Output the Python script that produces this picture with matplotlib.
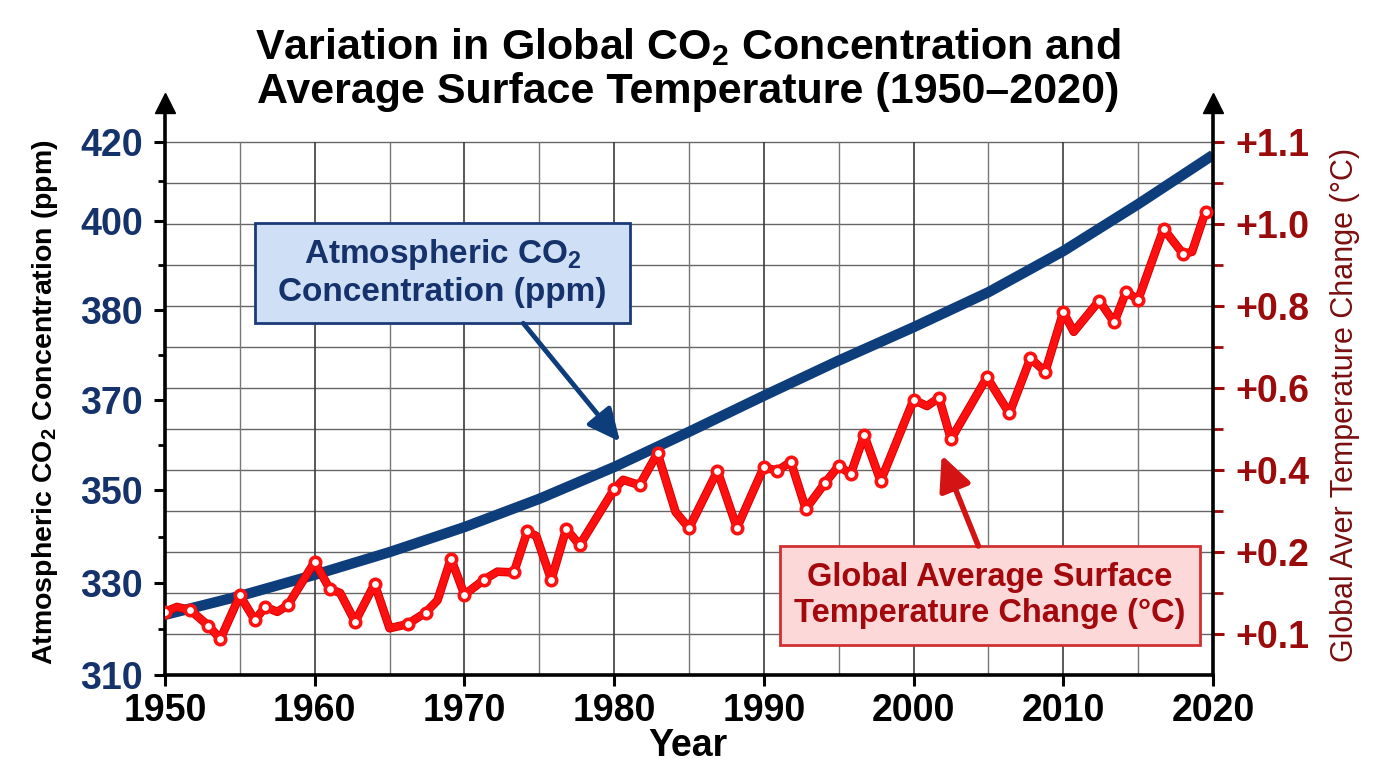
import numpy as np
import matplotlib
matplotlib.use("Agg")
import matplotlib.pyplot as plt
from matplotlib import patheffects as pe
from matplotlib.patches import Rectangle

plt.rcParams["font.family"] = ["Liberation Sans", "DejaVu Sans"]
plt.rcParams["mathtext.fontset"] = "custom"
plt.rcParams["mathtext.rm"] = "Liberation Sans"
plt.rcParams["mathtext.bf"] = "Liberation Sans:bold"

# CO2 curve, read every 5 years
co2_years = [1950, 1955, 1960, 1965, 1970, 1975, 1980, 1985,
             1990, 1995, 2000, 2005, 2010, 2015, 2020]
co2_ppm = [323.1, 327.2, 331.8, 336.7, 342.1, 348.2, 355.2, 363.0,
           370.5, 374.4, 378.1, 384.0, 393.2, 404.2, 416.7]

# temperature anomaly vertices
temp_years = [1950.0, 1950.8, 1951.7, 1952.9, 1953.7, 1955.0, 1956.0, 1956.7,
              1957.5, 1958.2, 1960.0, 1961.0, 1961.7, 1962.7, 1964.0, 1965.0,
              1966.2, 1967.4, 1968.2, 1969.1, 1970.0, 1971.3, 1972.2, 1973.3,
              1974.2, 1974.8, 1975.8, 1976.8, 1977.7, 1980.0, 1980.6, 1981.7,
              1982.9, 1984.1, 1985.0, 1986.9, 1988.2, 1990.0, 1990.9, 1991.8,
              1992.8, 1994.1, 1995.0, 1995.8, 1996.7, 1997.8, 2000.0, 2000.9,
              2001.7, 2002.5, 2004.9, 2006.4, 2007.8, 2008.8, 2010.0, 2010.7,
              2012.4, 2013.4, 2014.2, 2015.0, 2016.7, 2018.0, 2018.6, 2019.5]
temp_change = [0.127, 0.133, 0.129, 0.110, 0.094, 0.147, 0.117, 0.133,
               0.127, 0.135, 0.188, 0.155, 0.150, 0.115, 0.161, 0.107,
               0.112, 0.126, 0.141, 0.192, 0.148, 0.166, 0.176, 0.175,
               0.250, 0.239, 0.166, 0.256, 0.217, 0.353, 0.376, 0.363,
               0.441, 0.298, 0.258, 0.398, 0.259, 0.407, 0.398, 0.420,
               0.305, 0.369, 0.410, 0.390, 0.485, 0.373, 0.571, 0.556,
               0.576, 0.475, 0.626, 0.538, 0.672, 0.640, 0.785, 0.737,
               0.813, 0.760, 0.835, 0.815, 0.988, 0.927, 0.932, 1.015]
# vertices drawn without a dot
temp_unmarked = [1, 8, 12, 15, 18, 22, 25, 30, 33, 47, 55, 62]

co2_ticks = [310, 330, 350, 370, 380, 400, 420]
co2_minor = [320, 340, 360, 375, 390, 410]
temp_ticks = [0.1, 0.2, 0.4, 0.6, 0.8, 1.0, 1.1]
temp_minor = [0.15, 0.3, 0.5, 0.7, 0.9, 1.05]
year_ticks = [1950, 1960, 1970, 1980, 1990, 2000, 2010, 2020]

# both value axes are uneven: every labelled value sits on a fixed grid row
co2_vals = [290, 310, 330, 350, 370, 380, 400, 420, 440]
co2_rows = [-2.24, 0, 2.24, 4.5, 6.7, 8.9, 11.08, 13.0, 14.92]
temp_vals = [0.0, 0.1, 0.2, 0.4, 0.6, 0.8, 1.0, 1.1, 1.2]
temp_rows = [-1, 1, 3, 5, 7, 9, 11, 13, 15]
top_row = 13.95

navy = "#0e3d7c"
navy_txt = "#16326b"
red = "#ff1010"
dark_red = "#9c0b0b"


def co2_fwd(v):
    return np.interp(v, co2_vals, co2_rows)


def co2_inv(r):
    return np.interp(r, co2_rows, co2_vals)


def temp_fwd(v):
    return np.interp(v, temp_vals, temp_rows)


def temp_inv(r):
    return np.interp(r, temp_rows, temp_vals)


fig = plt.figure(figsize=(13.76, 7.68), dpi=100)
ax = fig.add_axes([165 / 1376, 1 - 675 / 768, 1048 / 1376, 572 / 768])
ax2 = ax.twinx()

ax.set_yscale("function", functions=(co2_fwd, co2_inv))
ax2.set_yscale("function", functions=(temp_fwd, temp_inv))
ax.set_xlim(1950, 2020)
ax.set_ylim(co2_inv(0), co2_inv(top_row))
ax2.set_ylim(temp_inv(0), temp_inv(top_row))

# grid, stopping at the top row
rows = np.arange(1, 14)
ax.hlines(co2_inv(rows), 1950, 2020, color="#666666", lw=1.0, zorder=0)
for yr in range(1955, 2020, 5):
    ax.vlines(yr, co2_inv(0), co2_inv(13),
              color="#3c3c3c" if yr % 10 == 0 else "#777777",
              lw=1.2 if yr % 10 == 0 else 1.0, zorder=0)

ax.plot(co2_years, co2_ppm, color=navy, lw=7.5, solid_capstyle="butt",
        solid_joinstyle="round", zorder=3)

ax2.plot(temp_years, temp_change, color=red, lw=4.8, solid_joinstyle="round",
         path_effects=[pe.Stroke(linewidth=6.2, foreground="#d80000"), pe.Normal()],
         zorder=3)
marked = [i for i in range(len(temp_years)) if i not in temp_unmarked]
ax2.plot(temp_years, temp_change, ls="none", marker="o", ms=7.5, mfc="white",
         mec=red, mew=2.6, markevery=marked, zorder=4)

# spines and arrows
for s in ["top", "right"]:
    ax.spines[s].set_visible(False)
for s in ["top", "left", "bottom"]:
    ax2.spines[s].set_visible(False)
for sp in [ax.spines["left"], ax.spines["bottom"], ax2.spines["right"]]:
    sp.set_linewidth(2.6)
    sp.set_color("black")
ax.plot([0], [1], marker="^", ms=15, color="black", transform=ax.transAxes,
        clip_on=False, zorder=6)
ax2.plot([1], [1], marker="^", ms=15, color="black", transform=ax2.transAxes,
         clip_on=False, zorder=6)

# ticks
ax.set_xticks(year_ticks)
ax.set_xticklabels([str(y) for y in year_ticks])
ax.tick_params(axis="x", direction="out", length=8, width=2.2, pad=5,
               labelsize=27)
ax.set_yticks(co2_ticks)
ax.set_yticks(co2_minor, minor=True)
ax.set_yticklabels([str(v) for v in co2_ticks])
ax.tick_params(axis="y", which="major", direction="out", length=8, width=2.2,
               pad=8, labelsize=27, labelcolor=navy_txt)
ax.tick_params(axis="y", which="minor", direction="out", length=5, width=2.0)
ax2.set_yticks(temp_ticks)
ax2.set_yticks(temp_minor, minor=True)
ax2.set_yticklabels([f"+{v:.1f}" for v in temp_ticks])
ax2.tick_params(axis="y", which="major", direction="out", length=8, width=2.2,
                pad=8, labelsize=27, labelcolor=dark_red, color=dark_red)
ax2.tick_params(axis="y", which="minor", direction="out", length=7, width=2.0,
                color=dark_red)
for lab in ax.get_xticklabels() + ax.get_yticklabels() + ax2.get_yticklabels():
    lab.set_fontweight("bold")

# callout boxes
ax2.add_patch(Rectangle((0.0859, 0.6154), 0.3578, 0.1748, transform=ax2.transAxes,
                        facecolor="#cfe0f6", edgecolor="#1b3b78", lw=2,
                        zorder=7, clip_on=False))
ax2.text(0.2648, 0.703, "Atmospheric CO$_\\mathbf{2}$\nConcentration (ppm)",
         transform=ax2.transAxes, ha="center", va="center", fontsize=24,
         fontweight="bold", color=navy_txt, zorder=8)
ax2.annotate("", xy=(0.4342, 0.4079), xycoords="axes fraction",
             xytext=(0.3419, 0.6149), textcoords="axes fraction",
             arrowprops=dict(arrowstyle="-|>,head_length=0.7,head_width=0.33",
                             mutation_scale=28, color=navy, lw=3.5,
                             shrinkA=0, shrinkB=0), zorder=7)

ax2.add_patch(Rectangle((0.5868, 0.0524), 0.4008, 0.1731, transform=ax2.transAxes,
                        facecolor="#fcd8d8", edgecolor="#d03030", lw=2,
                        zorder=7, clip_on=False))
ax2.text(0.7872, 0.139, "Global Average Surface\nTemperature Change (°C)",
         transform=ax2.transAxes, ha="center", va="center", fontsize=23.5,
         fontweight="bold", color="#a3080c", zorder=8)
ax2.annotate("", xy=(0.7411, 0.3846), xycoords="axes fraction",
             xytext=(0.7761, 0.2255), textcoords="axes fraction",
             arrowprops=dict(arrowstyle="-|>,head_length=0.7,head_width=0.33",
                             mutation_scale=30, color="#d41414", lw=4,
                             shrinkA=0, shrinkB=0), zorder=7)

# titles and axis labels
fig.text(0.5, 1 - 26 / 768,
         "Variation in Global CO$_\\mathbf{2}$ Concentration and\n"
         "Average Surface Temperature (1950–2020)",
         ha="center", va="top", fontsize=31, fontweight="bold",
         linespacing=1.12)
fig.text(45 / 1376, 1 - 402 / 768,
         "Atmospheric CO$_\\mathbf{2}$ Concentration (ppm)",
         rotation=90, ha="center", va="center", fontsize=20.5, fontweight="bold")
fig.text(1345 / 1376, 1 - 405 / 768, "Global Aver Temperature Change (°C)",
         rotation=90, ha="center", va="center", fontsize=22, color="#7a0f0f")
fig.text(0.5, 1 - 746 / 768, "Year", ha="center", va="center", fontsize=27,
         fontweight="bold")

fig.savefig("out.png", dpi=100)
